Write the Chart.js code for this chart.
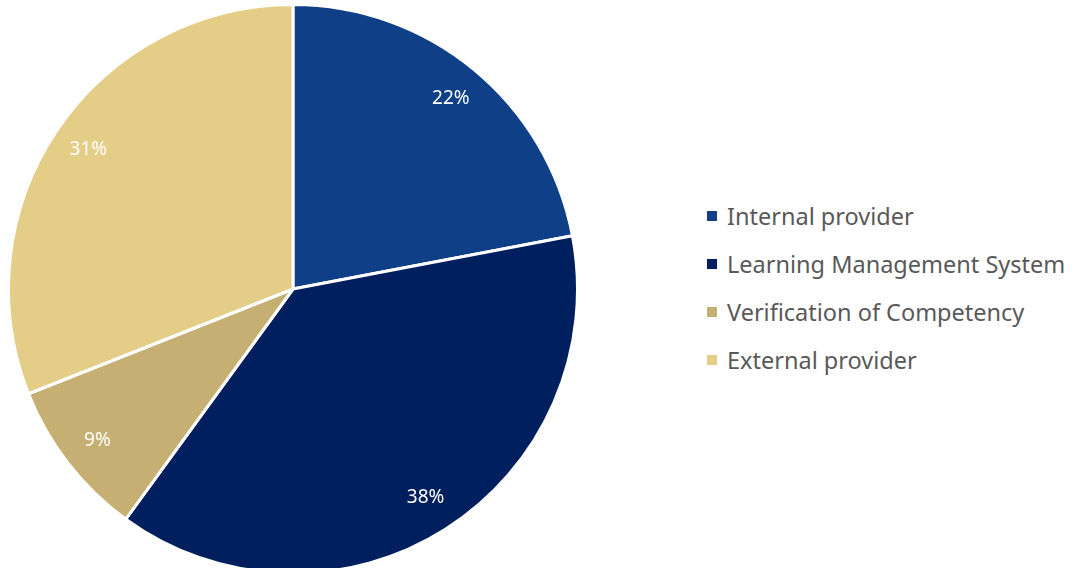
<!DOCTYPE html>
<html>
<head>
<meta charset="utf-8">
<script src="https://cdn.jsdelivr.net/npm/chart.js@4.4.1/dist/chart.umd.min.js"></script>
<style>
  html, body { margin: 0; padding: 0; background: #fff; overflow: hidden; }
  #wrap { position: relative; width: 1077px; height: 568px; }
  #pieBox { position: absolute; left: 7px; top: 3px; width: 572px; height: 572px; }
  #legend { position: absolute; left: 707px; top: 192px; font-family: "Noto Sans", sans-serif; font-size: 23.5px; color: #595959; }
  .item { height: 48px; display: flex; align-items: center; }
  .sw { width: 10px; height: 10px; margin-right: 10px; }
</style>
</head>
<body>
<div id="wrap">
  <div id="pieBox"><canvas id="pie"></canvas></div>
  <div id="legend"></div>
</div>
<script>
// datos
const labels = ['Internal provider', 'Learning Management System', 'Verification of Competency', 'External provider'];
const values = [22, 38, 9, 31];
const colors = ['#0F4087', '#001F5F', '#C5AF72', '#E3CD87'];

// etiquetas de porcentaje dentro de cada porción
const pctLabels = {
    id: 'pctLabels',
    afterDatasetsDraw(chart) {
        const ctx = chart.ctx;
        const meta = chart.getDatasetMeta(0);
        ctx.save();
        ctx.fillStyle = '#fff';
        ctx.font = '19px "Noto Sans", sans-serif';
        ctx.textAlign = 'center';
        ctx.textBaseline = 'middle';
        meta.data.forEach((arc, i) => {
            const p = arc.getProps(['x', 'y', 'startAngle', 'endAngle', 'outerRadius']);
            const a = (p.startAngle + p.endAngle) / 2;
            const r = p.outerRadius * 0.87;
            ctx.fillText(values[i] + '%', p.x + Math.cos(a) * r, p.y + Math.sin(a) * r);
        });
        ctx.restore();
    }
};

new Chart(document.getElementById('pie'), {
    type: 'pie',
    data: { labels, datasets: [{ data: values, backgroundColor: colors, borderColor: '#fff', borderWidth: 3 }] },
    options: {
        responsive: true, maintainAspectRatio: false, animation: false,
        plugins: { legend: { display: false }, tooltip: { enabled: false } }
    },
    plugins: [pctLabels]
});

// leyenda
const legendEl = document.getElementById('legend');
labels.forEach((l, i) => {
    legendEl.innerHTML += `<div class="item"><span class="sw" style="background:${colors[i]}"></span><span>${l}</span></div>`;
});
</script>
</body>
</html>
